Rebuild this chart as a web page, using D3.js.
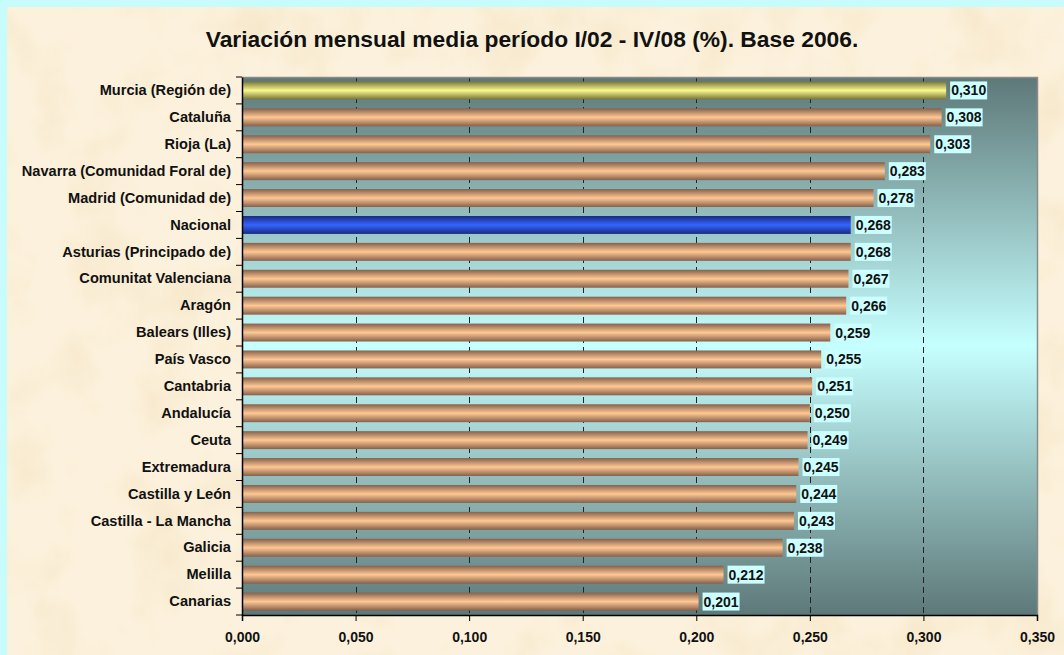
<!DOCTYPE html>
<html>
<head>
<meta charset="utf-8">
<script src="https://cdn.jsdelivr.net/npm/d3@7"></script>
<style>
  html, body { margin: 0; padding: 0; background: #c8fcfc; }
  svg { display: block; font-family: Arial, "Liberation Sans", sans-serif; }
</style>
</head>
<body>
<div id="chart"></div>
<script>
// Data
const regions = [
  "Murcia (Región de)",
  "Cataluña",
  "Rioja (La)",
  "Navarra (Comunidad Foral de)",
  "Madrid (Comunidad de)",
  "Nacional",
  "Asturias (Principado de)",
  "Comunitat Valenciana",
  "Aragón",
  "Balears (Illes)",
  "País Vasco",
  "Cantabria",
  "Andalucía",
  "Ceuta",
  "Extremadura",
  "Castilla y León",
  "Castilla - La Mancha",
  "Galicia",
  "Melilla",
  "Canarias"
];
const variation = [
  0.310, 0.308, 0.303, 0.283, 0.278, 0.268, 0.268, 0.267, 0.266, 0.259,
  0.255, 0.251, 0.250, 0.249, 0.245, 0.244, 0.243, 0.238, 0.212, 0.201
];
const xTicks = [0, 0.05, 0.10, 0.15, 0.20, 0.25, 0.30, 0.35];
const titleText = "Variación mensual media período I/02 - IV/08 (%). Base 2006.";

const width = 1064, height = 655;
const margin = { left: 242, top: 77, right: 27, bottom: 40 };

const data = regions.map((r, i) => ({ region: r, value: variation[i] }));
const fmt = v => d3.format(".3f")(v).replace(".", ",");

const svg = d3.select("#chart").append("svg")
  .attr("width", width)
  .attr("height", height);

const defs = svg.append("defs");

//#region Gradients and texture
const bg = defs.append("linearGradient").attr("id", "plotBg")
  .attr("x1", 0).attr("y1", 0).attr("x2", 0).attr("y2", 1);
bg.append("stop").attr("offset", "0%").attr("stop-color", "#5e7878");
bg.append("stop").attr("offset", "50%").attr("stop-color", "#c6ffff");
bg.append("stop").attr("offset", "100%").attr("stop-color", "#5e7878");

const barGrad = (id, edge, mid) => {
  const g = defs.append("linearGradient").attr("id", id)
    .attr("x1", 0).attr("y1", 0).attr("x2", 0).attr("y2", 1);
  g.append("stop").attr("offset", "0%").attr("stop-color", edge);
  g.append("stop").attr("offset", "50%").attr("stop-color", mid);
  g.append("stop").attr("offset", "100%").attr("stop-color", edge);
};
barGrad("barPeach", "#86604a", "#ffc894");
barGrad("barYellow", "#77753a", "#f8f88c");
barGrad("barBlue", "#1a2a80", "#3464ff");

const paper = defs.append("filter").attr("id", "paper")
  .attr("x", 0).attr("y", 0).attr("width", 1).attr("height", 1);
paper.append("feTurbulence").attr("type", "fractalNoise")
  .attr("baseFrequency", 0.015).attr("numOctaves", 4).attr("seed", 7)
  .attr("result", "noise");
paper.append("feColorMatrix").attr("in", "noise").attr("type", "matrix")
  .attr("values", "0 0 0 0 0.91  0 0 0 0 0.78  0 0 0 0 0.55  0 0 0 -1.6 0.85")
  .attr("result", "tint");
paper.append("feComposite").attr("in", "tint").attr("in2", "SourceGraphic")
  .attr("operator", "in");
//#endregion

// Card with parchment look
svg.append("rect")
  .attr("x", 7).attr("y", 7).attr("width", width - 7).attr("height", height - 7)
  .attr("fill", "#fcf1dc");
svg.append("rect")
  .attr("x", 7).attr("y", 7).attr("width", width - 7).attr("height", height - 7)
  .attr("fill", "#fff")
  .attr("filter", "url(#paper)");

//#region Scales
const x = d3.scaleLinear()
  .domain([0, 0.35])
  .range([margin.left, width - margin.right]);
const y = d3.scaleBand()
  .domain(regions)
  .range([margin.top, height - margin.bottom])
  .paddingInner(1 / 3)
  .paddingOuter(1 / 6);
//#endregion

// Plot area
const plotW = x(0.35) - x(0);
const plotH = height - margin.bottom - margin.top;
svg.append("rect")
  .attr("x", x(0)).attr("y", margin.top)
  .attr("width", plotW).attr("height", plotH)
  .attr("fill", "url(#plotBg)");

// Dashed gridlines
svg.append("g")
  .selectAll("line")
  .data(xTicks.slice(1, -1))
  .join("line")
  .attr("x1", d => Math.round(x(d)) + 0.5)
  .attr("x2", d => Math.round(x(d)) + 0.5)
  .attr("y1", margin.top)
  .attr("y2", margin.top + plotH)
  .attr("stroke", "#222")
  .attr("stroke-width", 1)
  .attr("stroke-dasharray", "6,4");

// Plot border top/right
svg.append("path")
  .attr("d", `M${x(0)},${margin.top + 0.5}H${x(0.35) + 0.5}V${margin.top + plotH}`)
  .attr("fill", "none")
  .attr("stroke", "#8a8a8a")
  .attr("stroke-width", 1.5);

//#region Bars
const fillFor = r => r === "Nacional" ? "url(#barBlue)"
  : r === "Murcia (Región de)" ? "url(#barYellow)" : "url(#barPeach)";

svg.append("g")
  .selectAll("rect")
  .data(data)
  .join("rect")
  .attr("x", x(0))
  .attr("y", d => y(d.region))
  .attr("width", d => x(d.value) - x(0))
  .attr("height", y.bandwidth())
  .attr("fill", d => fillFor(d.region));
//#endregion

//#region Value labels
const labels = svg.append("g")
  .selectAll("g")
  .data(data)
  .join("g")
  .attr("transform", d => `translate(${x(d.value) + 4}, ${y(d.region) + y.bandwidth() / 2})`);

labels.append("rect")
  .attr("x", 0).attr("y", -9)
  .attr("width", 37).attr("height", 18)
  .attr("fill", "#ccffff");

labels.append("text")
  .attr("x", 1)
  .attr("y", 5)
  .attr("font-size", 14)
  .attr("font-weight", "bold")
  .attr("fill", "#111")
  .text(d => fmt(d.value));
//#endregion

//#region Axes
const yAxis = d3.axisLeft(y).tickSize(0).tickPadding(11);
const gy = svg.append("g")
  .attr("transform", `translate(${x(0)}, 0)`)
  .call(yAxis);
gy.select(".domain").attr("stroke", "#000").attr("stroke-width", 1.5);
gy.selectAll("text")
  .attr("font-size", 14.6)
  .attr("font-weight", "bold")
  .attr("fill", "#111")
  .attr("font-family", "Arial, 'Liberation Sans', sans-serif");

// category separator ticks on the left axis
const step = y.step();
const sepY = d3.range(regions.length + 1).map(i => margin.top + i * step);
svg.append("g")
  .selectAll("line")
  .data(sepY)
  .join("line")
  .attr("x1", x(0) - 6).attr("x2", x(0))
  .attr("y1", d => d).attr("y2", d => d)
  .attr("stroke", "#000").attr("stroke-width", 1);

const xAxis = d3.axisBottom(x)
  .tickValues(xTicks)
  .tickFormat(fmt)
  .tickSize(6)
  .tickPadding(11);
const gx = svg.append("g")
  .attr("transform", `translate(0, ${margin.top + plotH})`)
  .call(xAxis);
gx.select(".domain").attr("stroke", "#000").attr("stroke-width", 1.5);
gx.selectAll(".tick line").attr("stroke", "#000");
gx.selectAll("text")
  .attr("font-size", 14)
  .attr("font-weight", "bold")
  .attr("fill", "#111")
  .attr("font-family", "Arial, 'Liberation Sans', sans-serif");
//#endregion

// Title
svg.append("text")
  .attr("x", 532)
  .attr("y", 47)
  .attr("text-anchor", "middle")
  .attr("font-size", 22.8)
  .attr("font-weight", "bold")
  .attr("fill", "#111")
  .text(titleText);
</script>
</body>
</html>
